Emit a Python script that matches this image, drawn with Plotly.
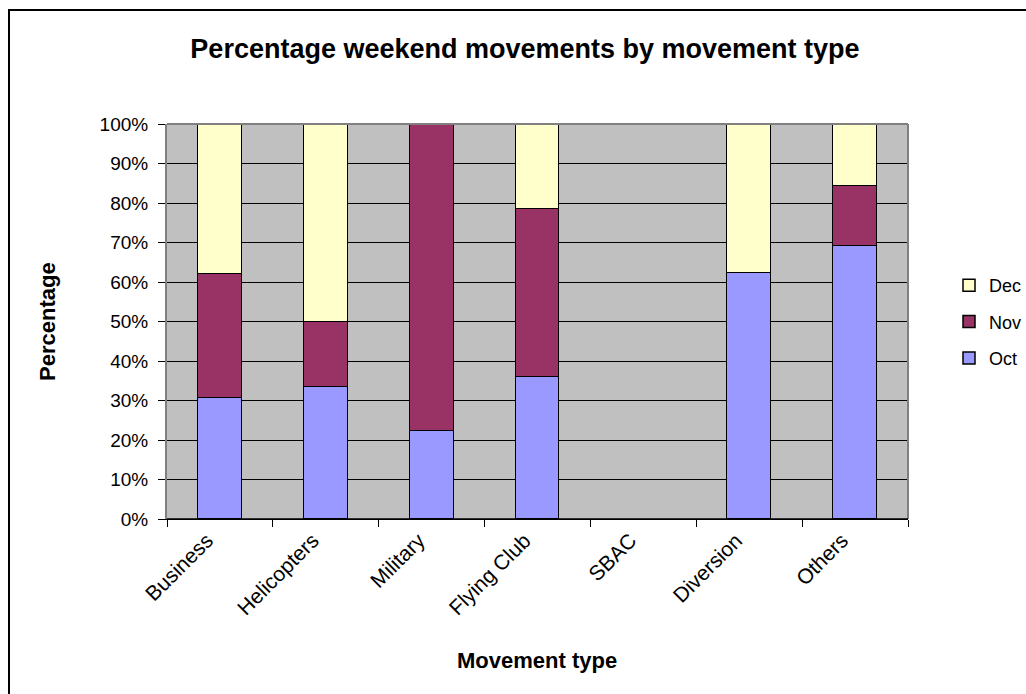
import plotly.graph_objects as go

# Movement types and the monthly share (%) of weekend movements
categories = ["Business", "Helicopters", "Military", "Flying Club", "SBAC", "Diversion", "Others"]
oct_pct = [30.6, 33.3, 22.3, 35.9, 0, 62.4, 69.0]
nov_pct = [31.4, 16.5, 77.7, 42.6, 0, 0, 15.3]
dec_pct = [38.0, 50.2, 0, 21.5, 0, 37.6, 15.7]
y_ticks = [0, 10, 20, 30, 40, 50, 60, 70, 80, 90, 100]
y_tick_text = [f"{v}%" for v in y_ticks]

FONT = "Liberation Sans, Arial, sans-serif"
W, H = 1026, 694
L, R, T, B = 167, 908, 124, 519  # plot area in pixels

fig = go.Figure()
for rank, (name, vals, color) in zip([3, 2, 1], [("Oct", oct_pct, "#9999FF"),
                                                 ("Nov", nov_pct, "#993366"),
                                                 ("Dec", dec_pct, "#FFFFCC")]):
    # empty segments are skipped so no zero-height outline is drawn
    fig.add_trace(go.Bar(
        x=categories, y=[v if v > 0 else None for v in vals], name=name,
        width=0.415, legendgroup=name, legendrank=rank,
        marker=dict(color=color, line=dict(color="black", width=1.5)),
    ))


def px_x(p):
    return (p - L) / (R - L)


def px_y(p):
    return (B - p) / (B - T)


fig.update_layout(
    width=W, height=H,
    margin=dict(l=L, r=W - R, t=T, b=H - B, pad=0, autoexpand=False),
    barmode="stack",
    paper_bgcolor="white",
    plot_bgcolor="#C0C0C0",
    font=dict(family=FONT, size=19, color="black"),
    title=dict(text="<b>Percentage weekend movements by movement type</b>",
               x=525 / W, xref="container", xanchor="center",
               y=1 - 49 / H, yref="container", yanchor="middle",
               font=dict(size=27, family=FONT)),
    showlegend=True,
    legend=dict(traceorder="grouped", x=px_x(949), xanchor="left",
                y=px_y(322), yanchor="middle", yref="paper",
                font=dict(size=18, family=FONT), itemwidth=30,
                tracegroupgap=10, bgcolor="rgba(0,0,0,0)"),
    bargap=0,
)

fig.update_xaxes(
    type="category", tickson="boundaries", ticks="outside", ticklen=7,
    tickcolor="black", tickwidth=1, showline=True, linecolor="black",
    linewidth=1, tickangle=-45, showgrid=False,
    ticklabelshift=-13,
    tickfont=dict(size=21, family=FONT),
    range=[-0.5, len(categories) - 0.5],
)
fig.update_yaxes(
    range=[0, 100], tickvals=y_ticks, ticktext=y_tick_text,
    ticks="outside", ticklen=7, tickcolor="black", tickwidth=1,
    ticklabelstandoff=6,
    showline=True, linecolor="#808080", linewidth=2,
    showgrid=True, gridcolor="black", gridwidth=1,
    tickfont=dict(size=19, family=FONT),
    zeroline=False,
)

# axis titles
fig.add_annotation(text="<b>Movement type</b>", xref="paper", yref="paper",
                   x=px_x(537), y=px_y(660), xanchor="center", yanchor="middle",
                   showarrow=False, font=dict(size=22, family=FONT))
fig.add_annotation(text="<b>Percentage</b>", xref="paper", yref="paper",
                   x=px_x(47), y=px_y(322), xanchor="center", yanchor="middle",
                   textangle=-90, showarrow=False, font=dict(size=22, family=FONT))

# plot-area frame (top, right and bottom edges)
fig.add_shape(type="line", xref="paper", yref="paper", x0=0, x1=1, y0=1, y1=1,
              line=dict(color="#808080", width=2), layer="above")
fig.add_shape(type="line", xref="paper", yref="paper", x0=1, x1=1, y0=0, y1=1,
              line=dict(color="#808080", width=2), layer="above")
fig.add_shape(type="line", xref="paper", yref="paper", x0=0, x1=1, y0=0, y1=0,
              line=dict(color="black", width=1.5), layer="above")

# chart frame
fig.add_shape(type="rect", xref="paper", yref="paper",
              x0=px_x(9), x1=px_x(W + 20), y0=px_y(H + 20), y1=px_y(10),
              line=dict(color="black", width=2), fillcolor="rgba(0,0,0,0)",
              layer="below")

fig.write_html("out.html")
